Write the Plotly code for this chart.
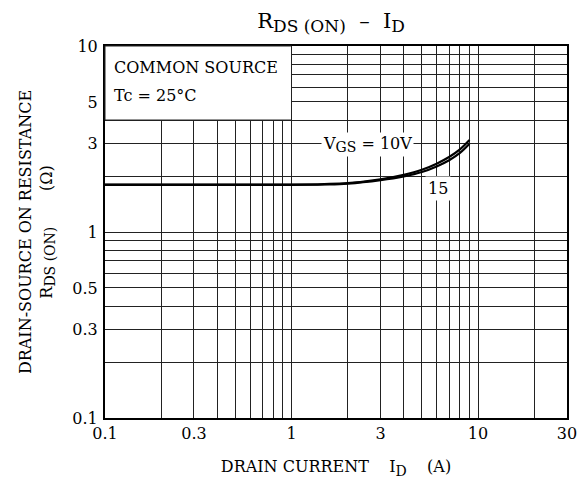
import math
import plotly.graph_objects as go

# Data
id_10v = [0.1, 0.5, 1.0, 1.5, 2.0, 3.0, 4.0, 5.0, 6.0, 7.0, 8.0, 9.0]
rds_10v = [1.80, 1.80, 1.80, 1.81, 1.83, 1.92, 2.03, 2.16, 2.33, 2.53, 2.78, 3.12]
id_15v = [0.1, 0.5, 1.0, 1.5, 2.0, 3.0, 4.0, 5.0, 6.0, 7.0, 8.0, 9.0]
rds_15v = [1.79, 1.79, 1.79, 1.80, 1.82, 1.90, 1.99, 2.10, 2.25, 2.43, 2.66, 2.98]

x_tickvals = [0.1, 0.3, 1, 3, 10, 30]
x_ticktext = ["0.1", "0.3", "1", "3", "10", "30"]
x_grid_minor = [0.2, 0.4, 0.5, 0.6, 0.7, 0.8, 0.9, 2, 4, 5, 6, 7, 8, 9, 20]
y_tickvals = [0.1, 0.3, 0.5, 1, 3, 5, 10]
y_ticktext = ["0.1", "0.3", "0.5", "1", "3", "5", "10"]
y_grid_minor = [0.2, 0.4, 0.6, 0.7, 0.8, 0.9, 2, 4, 6, 7, 8, 9]

FONT = "DejaVu Serif"
GRID = "#222"


def sub(t, px):
    return "<sub><span style='font-size:%dpx'>%s</span></sub>" % (px, t)


fig = go.Figure()
fig.add_trace(go.Scatter(x=id_10v, y=rds_10v, mode="lines", line=dict(color="black", width=2.2, shape="spline"),
                         showlegend=False, hoverinfo="skip"))
fig.add_trace(go.Scatter(x=id_15v, y=rds_15v, mode="lines", line=dict(color="black", width=2.2, shape="spline"),
                         showlegend=False, hoverinfo="skip"))

# white box for the condition text (covers grid)
box_x1 = math.log10(1 / 0.1) / math.log10(30 / 0.1)
box_y0 = (math.log10(4) + 1) / 2
fig.add_shape(type="rect", xref="x domain", yref="y domain", x0=0, x1=box_x1, y0=box_y0, y1=1,
              fillcolor="white", line=dict(color=GRID, width=1), layer="above")

fig.add_annotation(xref="x domain", yref="y domain", x=0.016, y=0.941, xanchor="left", yanchor="middle",
                   text="COMMON SOURCE", showarrow=False, font=dict(family=FONT, size=16, color="black"))
fig.add_annotation(xref="x domain", yref="y domain", x=0.016, y=0.868, xanchor="left", yanchor="middle",
                   text="Tc = 25°C", showarrow=False, font=dict(family=FONT, size=16, color="black"))

fig.add_annotation(x=math.log10(2.55), y=math.log10(2.95), text="V" + sub("GS", 14) + " = 10V", showarrow=False,
                   bgcolor="white", font=dict(family=FONT, size=16, color="black"), borderpad=1)
fig.add_annotation(x=math.log10(6.1), y=math.log10(1.72), text="15", showarrow=False,
                   bgcolor="white", font=dict(family=FONT, size=16, color="black"), borderpad=2)

fig.update_layout(
    width=586, height=481,
    margin=dict(l=105, r=19, t=46, b=63),
    paper_bgcolor="white", plot_bgcolor="white",
    title=dict(text="R" + sub("DS (ON)", 17) + "  –  I" + sub("D", 17),
               x=0.565, xanchor="center", y=0.958, yanchor="middle",
               font=dict(family=FONT, size=21, color="black")),
    font=dict(family=FONT, color="black"),
)
fig.update_xaxes(type="log", range=[-1, math.log10(30)], automargin=False,
                 tickmode="array", tickvals=x_tickvals, ticktext=x_ticktext,
                 showgrid=True, gridcolor=GRID, gridwidth=1,
                 minor=dict(tickmode="array", tickvals=x_grid_minor, showgrid=True, gridcolor=GRID,
                            gridwidth=1, ticks=""),
                 showline=True, linecolor="black", linewidth=2, mirror=True, ticks="",
                 tickfont=dict(family=FONT, size=16, color="black"), zeroline=False,
                 title=dict(text="DRAIN CURRENT    I" + sub("D", 14) + "    (A)",
                            font=dict(family=FONT, size=16, color="black"), standoff=19))
fig.update_yaxes(type="log", range=[-1, 1], automargin=False,
                 tickmode="array", tickvals=y_tickvals, ticktext=y_ticktext,
                 showgrid=True, gridcolor=GRID, gridwidth=1,
                 minor=dict(tickmode="array", tickvals=y_grid_minor, showgrid=True, gridcolor=GRID,
                            gridwidth=1, ticks=""),
                 showline=True, linecolor="black", linewidth=2, mirror=True, ticks="",
                 tickfont=dict(family=FONT, size=16, color="black"), zeroline=False, ticklabelstandoff=2,
                 title=dict(text="DRAIN-SOURCE ON RESISTANCE<br>R" + sub("DS (ON)", 14) + "       (Ω)",
                            font=dict(family=FONT, size=16, color="black"), standoff=16))

fig.write_html("out.html", config={"displayModeBar": False},
               post_script="document.body.style.margin='0';")
